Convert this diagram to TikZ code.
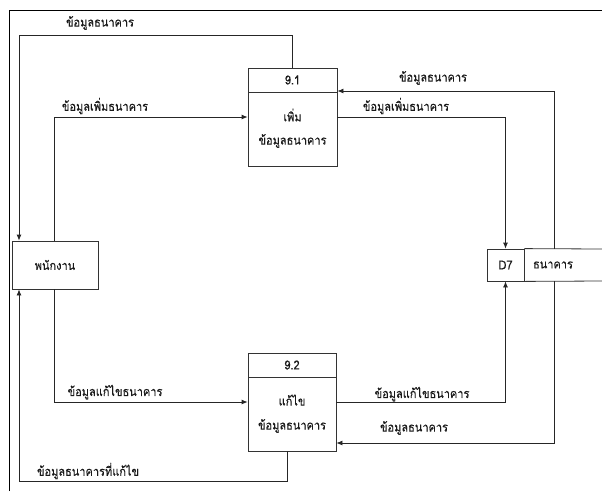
\documentclass[tikz,border=0pt]{standalone}
\usepackage{fontspec}
\newfontfamily\thai[Script=Thai,FakeStretch=0.88,FakeBold=0.2]{Loma}
\usetikzlibrary{arrows.meta}
\tikzset{
  flow/.style={draw=black!85, line width=0.8pt, -{Latex[length=6pt,width=5pt]}},
  boxline/.style={draw=black!80, line width=0.8pt},
  lbl/.style={font=\thai\fontsize{12.5}{14}\selectfont, inner sep=0pt, text=black!90},
  txt/.style={font=\thai\fontsize{12.5}{14}\selectfont, inner sep=0pt, text=black!90},
}
\begin{document}
\begin{tikzpicture}[x=1pt,y=-1pt]
\useasboundingbox (0,0) rectangle (602,491);
% frame
\draw[line width=0.9pt] (9,491) -- (9,10) -- (602,10);
% entity
\node[boxline, minimum width=86pt, minimum height=48pt, inner sep=0pt] (emp) at (55,265) {};
\node[txt] (empt) at (55,265) {พนักงาน};
% process 9.1
\node[boxline, minimum width=89pt, minimum height=98pt, inner sep=0pt] (p1) at (292.5,117) {};
\coordinate (p1d) at (248,92);
\draw[boxline] (p1d) -- (p1d -| p1.east);
\node[txt] (p1n) at (292.5,80) {9.1};
\node[txt] (p1a) at (292.5,115) {เพิ่ม};
\node[txt] (p1b) at (292.5,141) {ข้อมูลธนาคาร};
% process 9.2
\node[boxline, minimum width=88pt, minimum height=98pt, inner sep=0pt] (p2) at (292,402) {};
\coordinate (p2d) at (248,377);
\draw[boxline] (p2d) -- (p2d -| p2.east);
\node[txt] (p2n) at (292,365) {9.2};
\node[txt] (p2a) at (292,400) {แก้ไข};
\node[txt] (p2b) at (292,426) {ข้อมูลธนาคาร};
% data store
\node[boxline, minimum width=37pt, minimum height=32pt, inner sep=0pt] (d7) at (505.5,265) {};
\node[txt] (d7t) at (505.5,265) {D7};
\coordinate (st1) at (602,249);
\coordinate (st2) at (602,281);
\draw[boxline] (d7.north east) -- (st1);
\draw[boxline] (d7.south east) -- (st2);
\node[txt] (store) at (553,265) {ธนาคาร};
% connectors
\coordinate (c1) at (19,35);
\draw[flow] (p1.north) |- (c1) -- (c1 |- emp.north);
\coordinate (c2) at (54,117);
\draw[flow] (emp.north -| c2) -- (c2) -- (c2 -| p1.west);
\draw[flow] (p1.east) -| (d7.north);
\coordinate (c4) at (554,91);
\draw[flow] (c4 |- d7.north) -- (c4) -- (c4 -| p1.east);
\draw[flow] (emp.south -| c2) |- (p2.west);
\draw[flow] (p2.east) -| (d7.south);
\coordinate (c7) at (554,443);
\draw[flow] (c7 |- d7.south) -- (c7) -- (c7 -| p2.east);
\coordinate (c8) at (287,481);
\draw[flow] (c8 |- p2.south) -- (c8) -| (c1 |- emp.south);
% labels
\node[lbl] (l1) at (100,23) {ข้อมูลธนาคาร};
\node[lbl] (l2) at (105,106) {ข้อมูลเพิ่มธนาคาร};
\node[lbl] (l3) at (433,78) {ข้อมูลธนาคาร};
\node[lbl] (l4) at (406,106) {ข้อมูลเพิ่มธนาคาร};
\node[lbl] (l5) at (115,392) {ข้อมูลแก้ไขธนาคาร};
\node[lbl] (l6) at (422,394) {ข้อมูลแก้ไขธนาคาร};
\node[lbl] (l7) at (414,428) {ข้อมูลธนาคาร};
\node[lbl] (l8) at (88,471) {ข้อมูลธนาคารที่แก้ไข};
\end{tikzpicture}
\end{document}
